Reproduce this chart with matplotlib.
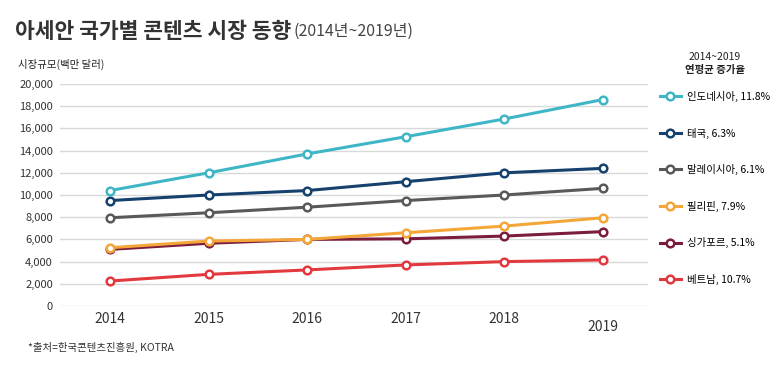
import numpy as np
import matplotlib
matplotlib.use("Agg")
import matplotlib.pyplot as plt

plt.rcParams['font.family'] = ['Noto Sans CJK KR', 'DejaVu Sans']

# 데이터 (백만 달러)
years = [2014, 2015, 2016, 2017, 2018, 2019]
indonesia = [10400, 12000, 13700, 15250, 16850, 18600]
thailand = [9500, 10000, 10400, 11200, 12000, 12400]
malaysia = [7950, 8400, 8900, 9500, 10000, 10600]
philippines = [5250, 5850, 6000, 6600, 7200, 7950]
singapore = [5100, 5650, 6000, 6050, 6300, 6700]
vietnam = [2250, 2850, 3250, 3700, 4000, 4150]

labels = ['인도네시아, 11.8%', '태국, 6.3%', '말레이시아, 6.1%',
          '필리핀, 7.9%', '싱가포르, 5.1%', '베트남, 10.7%']
colors = ['#3fb6c6', '#16416e', '#595959', '#f4a639', '#7b1d3f', '#e2393f']
series = [indonesia, thailand, malaysia, philippines, singapore, vietnam]
yticks = np.arange(0, 20001, 2000)

fig = plt.figure(figsize=(7.8, 3.71), dpi=100)
ax = fig.add_axes([60/780, 1-306/371, (648-60)/780, (306-84)/371])

# 아래쪽 선부터 그려서 위쪽 선이 덮도록
handles = []
for vals, col, lab in zip(series[::-1], colors[::-1], labels[::-1]):
    h, = ax.plot(years, vals, color=col, lw=2.2, marker='o', ms=5.5,
                 mfc='white', mec=col, mew=1.8, label=lab, zorder=3)
    handles.append(h)
handles = handles[::-1]

ax.set_xlim(2014-0.507, 2019+0.456)
ax.set_ylim(0, 20000)
ax.set_yticks(yticks)
ax.set_yticklabels([f'{v:,}' for v in yticks], fontsize=8, color='#333333')
ax.set_xticks(years)
ax.set_xticklabels([str(y) for y in years], fontsize=10, color='#333333')
ax.xaxis.get_ticklabels()[-1].set_y(-0.04)
ax.tick_params(axis='both', length=0)
ax.tick_params(axis='y', pad=5)
ax.tick_params(axis='x', pad=4)
ax.grid(axis='y', color='#d9d9d9', lw=1)
ax.set_axisbelow(True)
for s in ax.spines.values():
    s.set_visible(False)

# 범례
ax.legend(handles=handles, loc='upper left', bbox_to_anchor=(660/780, 1-91/371),
          bbox_transform=fig.transFigure, frameon=False, fontsize=7.5,
          handlelength=2.0, handletextpad=0.55, labelspacing=2.45,
          borderaxespad=0, borderpad=0)
fig.text(715/780, 1-57/371, '2014~2019', ha='center', va='center', fontsize=7.5, color='#222222')
fig.text(715/780, 1-70/371, '연평균 증가율', ha='center', va='center', fontsize=7.5,
         fontweight='bold', color='#222222')

# 제목 및 주석
title = fig.text(15/780, 1-31/371, '아세안 국가별 콘텐츠 시장 동향', ha='left', va='center',
                 fontsize=15.5, fontweight='bold', color='#333333')
fig.canvas.draw()
bb = title.get_window_extent()
fig.text(bb.x1/780 + 2/780, 1-31/371, '(2014년~2019년)', ha='left', va='center',
         fontsize=11.5, color='#444444')
fig.text(18/780, 1-64/371, '시장규모(백만 달러)', ha='left', va='center', fontsize=7.5, color='#222222')
fig.text(28/780, 1-347/371, '*출처=한국콘텐츠진흥원, KOTRA', ha='left', va='center',
         fontsize=7.5, color='#333333')

fig.savefig('out.png', dpi=100)
